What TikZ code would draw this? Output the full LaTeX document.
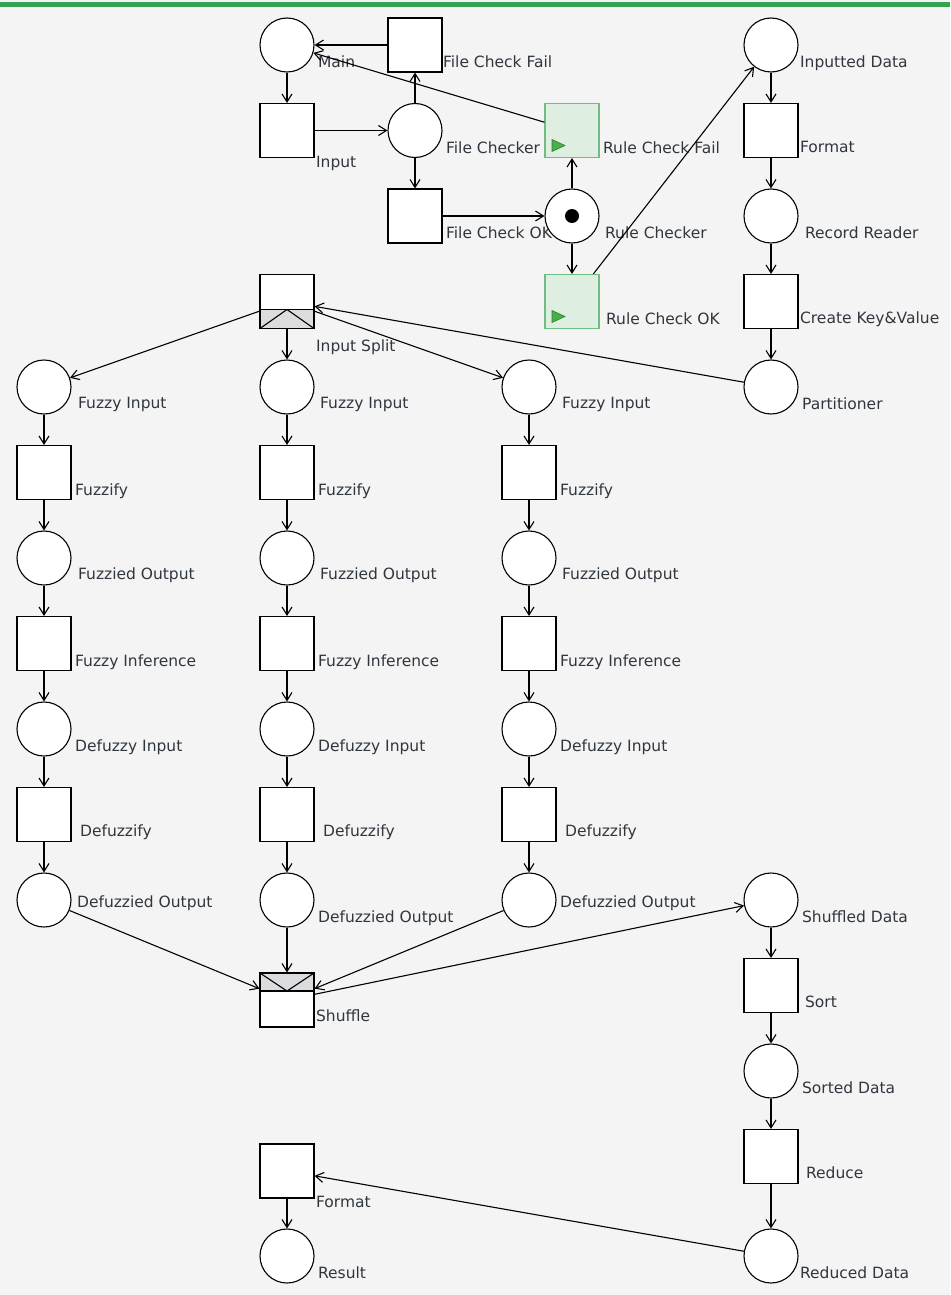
\documentclass[tikz,border=0pt]{standalone}
\usepackage{fontspec}
\setmainfont{DejaVu Sans}
\usetikzlibrary{positioning,arrows.meta}
\definecolor{bggray}{RGB}{244,244,244}
\definecolor{topgreen}{RGB}{52,163,82}
\definecolor{firefill}{RGB}{222,239,226}
\definecolor{firedraw}{RGB}{112,188,130}
\definecolor{tipgreen}{RGB}{72,176,72}
\definecolor{bandgray}{RGB}{218,220,222}
\definecolor{txtgray}{RGB}{48,54,62}
\tikzstyle{place} = [draw, fill=white, circle, minimum size=54pt, inner sep=0pt]
\tikzstyle{trans} = [draw, fill=white, rectangle, minimum size=54pt, inner sep=0pt]
\tikzstyle{lbl} = [font=\fontsize{15.5}{18}\selectfont, text=txtgray, inner sep=0pt, anchor=mid west]
\tikzset{
  lab/.style={label={[lbl, xshift=3pt, yshift=-20pt]east:#1}},
  labxy/.style n args={3}{label={[lbl, xshift=#1, yshift=#2]east:#3}},
  fire/.style={trans, fill=firefill, draw=firedraw, path picture={
      \fill[tipgreen, draw=tipgreen!70!black, line width=0.6pt]
        ([xshift=7pt, yshift=-9pt]path picture bounding box.west) --
        ([xshift=20pt, yshift=-15pt]path picture bounding box.west) --
        ([xshift=7pt, yshift=-21pt]path picture bounding box.west) -- cycle;
    }},
  marked/.style={path picture={
      \fill[black] (path picture bounding box.center) circle (7pt);
    }},
  splitband/.style={path picture={
      \fill[bandgray] (path picture bounding box.south west) rectangle ([yshift=19pt]path picture bounding box.south east);
      \draw ([yshift=19pt]path picture bounding box.south west) -- ([yshift=19pt]path picture bounding box.south east);
      \draw (path picture bounding box.south west) -- ([yshift=19pt]path picture bounding box.south) -- (path picture bounding box.south east);
    }},
  joinband/.style={path picture={
      \fill[bandgray] (path picture bounding box.north west) rectangle ([yshift=-18pt]path picture bounding box.north east);
      \draw ([yshift=-18pt]path picture bounding box.north west) -- ([yshift=-18pt]path picture bounding box.north east);
      \draw (path picture bounding box.north west) -- ([yshift=-18pt]path picture bounding box.north) -- (path picture bounding box.north east);
    }}
}

\begin{document}
\begin{tikzpicture}[x=1pt, y=-1pt, line width=1.1pt, node distance=85.5pt, >={Straight Barb[length=8pt,width=10pt]}]
        \fill [bggray] (0,0) rectangle (950,1295);
        \useasboundingbox (0,0) rectangle (950,1295);
        \fill [topgreen] (0,2) rectangle (950,7);

        % file and rule checking
        \node [place, lab=Main] (main) at (287,45) {};
        \node [trans, below of=main, labxy={1pt}{-34pt}{Input}] (inp) {};
        \node [trans, right of=main, node distance=128pt, labxy={0pt}{-20pt}{File Check Fail}] (fcfail) {};
        \node [place, right of=inp, node distance=128pt, lab={File Checker}] (fchk) {};
        \node [trans, below of=fchk, lab={File Check OK}] (fcok) {};
        \node [fire, right of=fchk, node distance=157pt, lab={Rule Check Fail}] (rcfail) {};
        \node [place, marked, below of=rcfail, labxy={5pt}{-20pt}{Rule Checker}] (rchk) {};
        \node [fire, below of=rchk, labxy={6pt}{-20pt}{Rule Check OK}] (rcok) {};

        % map input
        \node [place, right of=fcfail, node distance=356pt, labxy={1pt}{-20pt}{Inputted Data}] (indata) {};
        \node [trans, below of=indata, labxy={1pt}{-19pt}{Format}] (fmt) {};
        \node [place, below of=fmt, labxy={6pt}{-20pt}{Record Reader}] (rrd) {};
        \node [trans, below of=rrd, labxy={1pt}{-19pt}{Create Key\&Value}] (ckv) {};
        \node [place, below of=ckv, lab=Partitioner] (part) {};
        \node [trans, splitband, below of=inp, node distance=171pt, labxy={1pt}{-47pt}{Input Split}] (isplit) {};

        % fuzzy columns
        \node [place, below of=isplit, labxy={5pt}{-19pt}{Fuzzy Input}] (fin2) {};
        \node [place, left of=fin2, node distance=243pt, labxy={6pt}{-19pt}{Fuzzy Input}] (fin1) {};
        \node [place, right of=fin2, node distance=242pt, labxy={5pt}{-19pt}{Fuzzy Input}] (fin3) {};

        \node [trans, below of=fin1, lab=Fuzzify] (fzy1) {};
        \node [place, below of=fzy1, labxy={6pt}{-19pt}{Fuzzied Output}] (fzo1) {};
        \node [trans, below of=fzo1, lab={Fuzzy Inference}] (finf1) {};
        \node [place, below of=finf1, lab={Defuzzy Input}] (dfin1) {};
        \node [trans, below of=dfin1, labxy={8pt}{-19pt}{Defuzzify}] (dfz1) {};
        \node [place, below of=dfz1, labxy={5pt}{-5pt}{Defuzzied Output}] (dfo1) {};

        \node [trans, below of=fin2, lab=Fuzzify] (fzy2) {};
        \node [place, below of=fzy2, labxy={5pt}{-19pt}{Fuzzied Output}] (fzo2) {};
        \node [trans, below of=fzo2, lab={Fuzzy Inference}] (finf2) {};
        \node [place, below of=finf2, lab={Defuzzy Input}] (dfin2) {};
        \node [trans, below of=dfin2, labxy={8pt}{-19pt}{Defuzzify}] (dfz2) {};
        \node [place, below of=dfz2, lab={Defuzzied Output}] (dfo2) {};

        \node [trans, below of=fin3, lab=Fuzzify] (fzy3) {};
        \node [place, below of=fzy3, labxy={5pt}{-19pt}{Fuzzied Output}] (fzo3) {};
        \node [trans, below of=fzo3, lab={Fuzzy Inference}] (finf3) {};
        \node [place, below of=finf3, lab={Defuzzy Input}] (dfin3) {};
        \node [trans, below of=dfin3, labxy={8pt}{-19pt}{Defuzzify}] (dfz3) {};
        \node [place, below of=dfz3, labxy={3pt}{-5pt}{Defuzzied Output}] (dfo3) {};

        % shuffle and reduce
        \node [trans, joinband, below of=dfo2, node distance=100pt, labxy={1pt}{-19pt}{Shuffle}] (shuf) {};
        \node [place, right of=dfo3, node distance=242pt, lab={Shuffled Data}] (shd) {};
        \node [trans, below of=shd, labxy={6pt}{-19pt}{Sort}] (sort) {};
        \node [place, below of=sort, lab={Sorted Data}] (srd) {};
        \node [trans, below of=srd, labxy={7pt}{-19pt}{Reduce}] (red) {};
        \node [place, below of=red, node distance=99.5pt, labxy={1pt}{-20pt}{Reduced Data}] (rdd) {};
        \node [trans, below of=shuf, node distance=171pt, labxy={1pt}{-34pt}{Format}] (fmt2) {};
        \node [place, below of=fmt2, node distance=85pt, lab=Result] (res) {};

        \draw [->] (main) -- (inp);
        \draw [->] (inp) -- (fchk);
        \draw [->] (fchk) -- (fcfail);
        \draw [->] (fcfail) -- (main);
        \draw [->] (fchk) -- (fcok);
        \draw [->] (fcok) -- (rchk);
        \draw [->] (rchk) -- (rcfail);
        \draw [->] (rcfail) -- (main);
        \draw [->] (rchk) -- (rcok);
        \draw [->] (rcok) -- (indata);

        \draw [->] (indata) -- (fmt);
        \draw [->] (fmt) -- (rrd);
        \draw [->] (rrd) -- (ckv);
        \draw [->] (ckv) -- (part);
        \draw [->] (part) -- (isplit);

        \draw [->] (isplit) -- (fin1);
        \draw [->] (isplit) -- (fin2);
        \draw [->] (isplit) -- (fin3);

        \draw [->] (fin1) -- (fzy1);
        \draw [->] (fzy1) -- (fzo1);
        \draw [->] (fzo1) -- (finf1);
        \draw [->] (finf1) -- (dfin1);
        \draw [->] (dfin1) -- (dfz1);
        \draw [->] (dfz1) -- (dfo1);

        \draw [->] (fin2) -- (fzy2);
        \draw [->] (fzy2) -- (fzo2);
        \draw [->] (fzo2) -- (finf2);
        \draw [->] (finf2) -- (dfin2);
        \draw [->] (dfin2) -- (dfz2);
        \draw [->] (dfz2) -- (dfo2);

        \draw [->] (fin3) -- (fzy3);
        \draw [->] (fzy3) -- (fzo3);
        \draw [->] (fzo3) -- (finf3);
        \draw [->] (finf3) -- (dfin3);
        \draw [->] (dfin3) -- (dfz3);
        \draw [->] (dfz3) -- (dfo3);

        \draw [->] (dfo1) -- (shuf);
        \draw [->] (dfo2) -- (shuf);
        \draw [->] (dfo3) -- (shuf);
        \draw [->] (shuf) -- (shd);
        \draw [->] (shd) -- (sort);
        \draw [->] (sort) -- (srd);
        \draw [->] (srd) -- (red);
        \draw [->] (red) -- (rdd);
        \draw [->] (rdd) -- (fmt2);
        \draw [->] (fmt2) -- (res);
\end{tikzpicture}
\end{document}
